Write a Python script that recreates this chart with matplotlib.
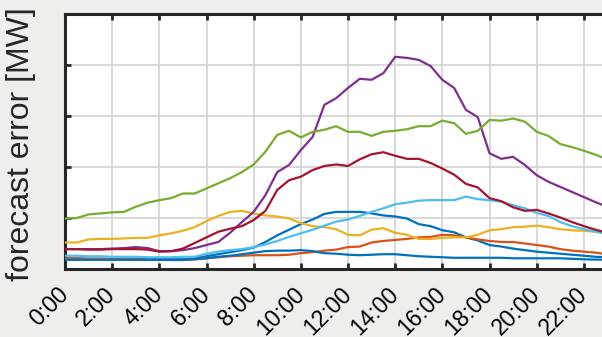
import matplotlib
matplotlib.use('Agg')
import matplotlib.pyplot as plt
import numpy as np

# half-hourly forecast error per series [MW]
hours = np.arange(47) * 0.5
tick_hours = [0, 2, 4, 6, 8, 10, 12, 14, 16, 18, 20, 22]
tick_labels = ['0:00', '2:00', '4:00', '6:00', '8:00', '10:00', '12:00',
               '14:00', '16:00', '18:00', '20:00', '22:00']

blue_a = [2.1, 2.1, 2.0, 2.0, 2.0, 2.0, 2.0, 1.9, 1.9, 1.9, 1.9, 2.1, 2.5, 2.9,
          3.3, 3.7, 4.2, 5.3, 6.6, 7.7, 8.8, 9.7, 10.8, 11.2, 11.2, 11.2, 10.9,
          10.5, 10.3, 9.9, 8.8, 8.4, 7.6, 7.2, 6.2, 5.6, 4.7, 4.4, 4.0, 3.7,
          3.4, 3.2, 3.0, 2.8, 2.6, 2.4, 2.3]
orange = [2.1, 2.05, 2.0, 2.0, 1.95, 1.9, 1.9, 1.85, 1.8, 1.75, 1.75, 1.9, 2.1,
          2.3, 2.5, 2.6, 2.7, 2.7, 2.7, 2.8, 3.1, 3.3, 3.6, 3.8, 4.3, 4.4, 5.2,
          5.5, 5.7, 5.9, 6.2, 6.3, 6.7, 6.6, 6.2, 5.8, 5.5, 5.3, 5.3, 5.0, 4.7,
          4.4, 3.9, 3.6, 3.4, 3.2, 2.9]
yellow = [5.2, 5.2, 5.8, 5.9, 5.9, 6.0, 6.1, 6.1, 6.6, 7.0, 7.5, 8.2, 9.4, 10.4,
          11.2, 11.4, 10.9, 10.5, 10.3, 9.9, 9.0, 8.4, 8.2, 7.8, 6.7, 6.6, 7.7,
          8.0, 7.1, 6.7, 5.9, 5.9, 6.1, 6.2, 6.2, 6.7, 7.6, 7.8, 8.2, 8.3, 8.5,
          8.2, 7.8, 7.6, 7.5, 7.3, 7.1]
purple = [3.9, 3.9, 3.9, 3.9, 4.0, 4.1, 4.3, 4.1, 3.5, 3.5, 3.7, 4.1, 4.7, 5.3,
          7.1, 9.2, 11.2, 14.5, 19.0, 20.4, 23.3, 25.9, 32.2, 33.5, 35.5, 37.3,
          37.1, 38.4, 41.6, 41.4, 41.0, 39.8, 37.1, 35.5, 31.2, 29.8, 22.7,
          21.6, 22.0, 20.4, 18.4, 17.1, 16.1, 15.1, 14.1, 13.1, 12.2]
green = [9.9, 10.0, 10.7, 10.9, 11.1, 11.2, 12.2, 13.0, 13.5, 13.9, 14.8, 14.8,
         15.8, 16.8, 17.8, 19.0, 20.5, 23.0, 26.3, 27.1, 25.8, 26.9, 27.3, 28.0,
         26.9, 26.9, 26.1, 26.9, 27.1, 27.4, 28.0, 28.0, 29.1, 28.6, 26.5, 27.1,
         29.2, 29.1, 29.5, 28.9, 26.9, 26.1, 24.5, 23.9, 23.2, 22.4, 21.5]
light_blue = [2.6, 2.6, 2.5, 2.5, 2.4, 2.4, 2.4, 2.3, 2.3, 2.3, 2.4, 2.4, 3.0,
              3.4, 3.7, 3.9, 4.3, 4.8, 5.5, 6.3, 7.0, 7.7, 8.5, 9.3, 9.7, 10.4,
              11.2, 11.9, 12.7, 13.0, 13.4, 13.5, 13.5, 13.5, 14.2, 13.7, 13.5,
              13.2, 12.5, 11.9, 11.0, 10.4, 9.2, 8.4, 7.8, 7.3, 6.9]
dark_red = [3.9, 3.9, 3.8, 3.8, 3.9, 3.9, 3.9, 3.8, 3.4, 3.5, 4.0, 5.1, 6.2, 7.3,
            7.9, 8.4, 9.6, 11.4, 15.5, 17.4, 18.1, 19.4, 20.2, 20.5, 20.2, 21.5,
            22.5, 22.9, 22.2, 21.6, 21.6, 20.8, 19.7, 18.5, 16.7, 16.0, 13.9,
            13.3, 12.1, 11.4, 11.6, 10.9, 10.1, 9.2, 8.4, 7.7, 7.1]
blue_b = [1.8, 1.8, 1.8, 1.8, 1.8, 1.8, 1.8, 1.8, 1.8, 1.8, 1.8, 1.9, 2.1, 2.4,
          2.6, 2.9, 3.2, 3.5, 3.6, 3.6, 3.7, 3.5, 3.1, 3.0, 2.8, 2.7, 2.8, 2.9,
          2.9, 2.7, 2.5, 2.4, 2.3, 2.2, 2.2, 2.2, 2.2, 2.2, 2.1, 2.1, 2.1, 2.1,
          2.1, 2.0, 1.9, 1.85, 1.8]

series = [blue_a, orange, yellow, purple, green, light_blue, dark_red, blue_b]
# MATLAB default line order (wraps back to the first blue)
colors = ['#0072BD', '#D95319', '#EDB120', '#7E2F8E', '#77AC30', '#4DBEEE',
          '#A2142F', '#0072BD']

plt.rcParams['font.family'] = ['Liberation Sans', 'DejaVu Sans']

fig = plt.figure(figsize=(6.02, 3.37), dpi=100, facecolor='#efeeea')
# axes runs on to 24:00, past the right edge of the picture (cropped)
ax = fig.add_axes([65 / 602, 68 / 337, 566 / 602, 255 / 337])
ax.set_facecolor('white')

for vals, col in zip(series, colors):
    ax.plot(hours, vals, color=col, lw=1.6, zorder=3)

ax.set_xlim(0, 24)
ax.set_ylim(0, 50)
ax.set_xticks(tick_hours + [24])
ax.set_xticklabels(tick_labels + [''], rotation=45, ha='right', va='center',
                   rotation_mode='anchor', fontsize=16.5)
ax.set_yticks([0, 10, 20, 30, 40, 50])
ax.set_yticklabels([])
ax.tick_params(axis='both', direction='in', length=4.5, width=2.0,
               color='#262626', top=True, right=True, pad=16)
ax.grid(True, color='#d6d6d6', lw=1.3, zorder=0)
for sp in ax.spines.values():
    sp.set_linewidth(2.2)
    sp.set_color('#262626')

ax.set_ylabel('forecast error [MW]', fontsize=23, color='#262626')
ax.yaxis.set_label_coords(-0.052, 0.49)

fig.savefig('out.png', dpi=100, facecolor=fig.get_facecolor())
